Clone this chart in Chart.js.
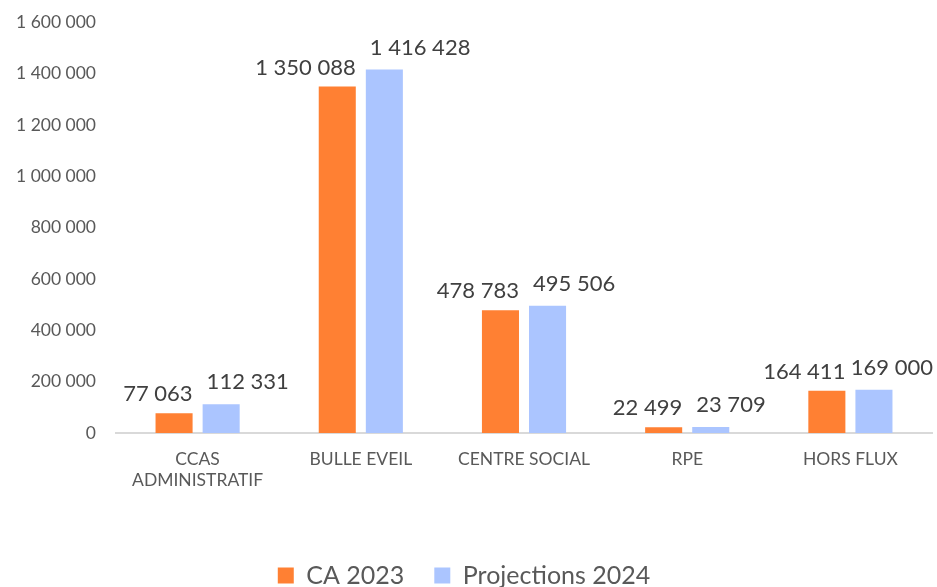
<!DOCTYPE html>
<html>
<head>
    <title>CA 2023 / Projections 2024</title>
    <script src="https://cdn.jsdelivr.net/npm/chart.js"></script>
    <style>
        body { margin: 0; background: #fff; overflow: hidden; }
        #wrap { position: relative; top: -8px; width: 937px; height: 595px; }
    </style>
</head>
<body>
    <div id="wrap"><canvas id="caChart"></canvas></div>

    <script>
        // Data
        const categories = [['CCAS', 'ADMINISTRATIF'], 'BULLE EVEIL', 'CENTRE SOCIAL', 'RPE', 'HORS FLUX'];
        const ca2023 = [77063, 1350088, 478783, 22499, 164411];
        const projections2024 = [112331, 1416428, 495506, 23709, 169000];
        const seriesNames = ['CA 2023', 'Projections 2024'];

        const fmt = v => String(v).replace(/\B(?=(\d{3})+(?!\d))/g, ' ');

        // data labels above bars (orange: right aligned, blue: left aligned)
        const valueLabels = {
            id: 'valueLabels',
            afterDatasetsDraw(chart) {
                const ctx = chart.ctx;
                ctx.save();
                ctx.font = '22px Lato';
                ctx.fillStyle = '#404040';
                ctx.textBaseline = 'bottom';
                chart.data.datasets.forEach((ds, i) => {
                    chart.getDatasetMeta(i).data.forEach((bar, j) => {
                        const half = bar.width / 2;
                        const txt = fmt(ds.data[j]);
                        if (i === 0) {
                            ctx.textAlign = 'right';
                            ctx.fillText(txt, bar.x + half, bar.y - 8);
                        } else {
                            ctx.textAlign = 'left';
                            let x = bar.x - half + 4;
                            const w = ctx.measureText(txt).width;
                            if (x + w > chart.width - 4) x = chart.width - 4 - w;
                            ctx.fillText(txt, x, bar.y - 11);
                        }
                    });
                });
                ctx.restore();
            }
        };

        const ctx = document.getElementById('caChart').getContext('2d');
        new Chart(ctx, {
            type: 'bar',
            data: {
                labels: categories,
                datasets: [{
                    label: seriesNames[0],
                    data: ca2023,
                    backgroundColor: '#FF8033'
                }, {
                    label: seriesNames[1],
                    data: projections2024,
                    backgroundColor: '#ABC5FF'
                }]
            },
            options: {
                responsive: true,
                maintainAspectRatio: false,
                animation: false,
                categoryPercentage: 0.577,
                barPercentage: 0.787,
                layout: { padding: { top: 0, right: 5, left: -4, bottom: -11 } },
                plugins: {
                    tooltip: { enabled: false },
                    legend: {
                        position: 'bottom',
                        labels: {
                            font: { family: 'Lato', size: 25 },
                            color: '#595959',
                            boxWidth: 16,
                            boxHeight: 16,
                            padding: 30
                        }
                    }
                },
                scales: {
                    x: {
                        grid: { display: false, drawTicks: false },
                        border: { color: '#D9D9D9', width: 2 },
                        ticks: {
                            font: { family: 'Lato', size: 17.5 },
                            color: '#595959',
                            padding: 16,
                            maxRotation: 0
                        },
                        afterFit: axis => { axis.height = 100; }
                    },
                    y: {
                        min: 0,
                        max: 1600000,
                        grid: { display: false, drawTicks: false },
                        border: { display: false },
                        ticks: {
                            stepSize: 200000,
                            font: { family: 'Lato', size: 17.5 },
                            color: '#595959',
                            padding: 20,
                            callback: v => fmt(v)
                        }
                    }
                }
            },
            plugins: [valueLabels]
        });
    </script>
</body>
</html>
